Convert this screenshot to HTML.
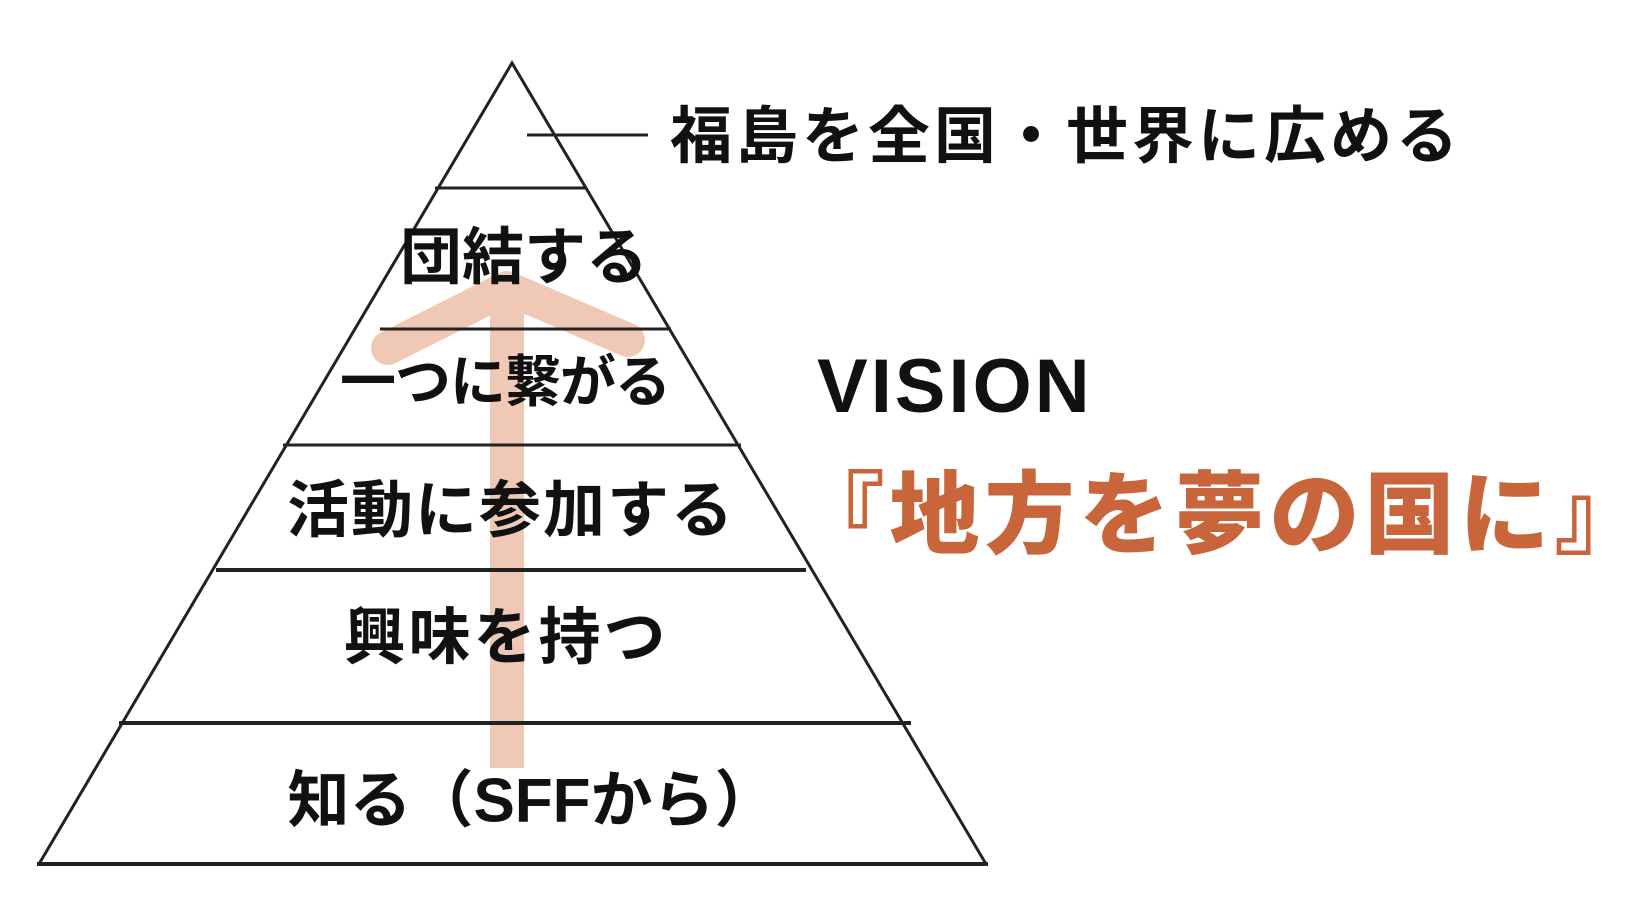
<!DOCTYPE html>
<html><head><meta charset="utf-8"><style>
body{margin:0;background:#fff;width:1644px;height:908px;overflow:hidden}
svg{display:block}
.j{font-family:"Liberation Sans","Noto Sans CJK JP",sans-serif;font-weight:700;fill:#111}
</style></head><body>
<svg width="1644" height="908" viewBox="0 0 1644 908">
<g stroke="#efc8b6" stroke-width="34" stroke-linecap="round" fill="none">
<line x1="507" y1="290" x2="507" y2="768" stroke-linecap="butt"/>
<polyline points="388,348 507,288 628,340" stroke-linejoin="round"/>
</g>
<g stroke="#222" stroke-width="3" fill="none">
<polyline points="39,864 512,63 986,864"/>
<line x1="37" y1="864" x2="988" y2="864" stroke-width="4"/>
<line x1="435" y1="188" x2="587" y2="188"/>
<line x1="380" y1="329" x2="671" y2="329"/>
<line x1="283" y1="445" x2="741" y2="445"/>
<line x1="216" y1="570" x2="806" y2="570" stroke-width="4"/>
<line x1="119" y1="723" x2="911" y2="723" stroke-width="4"/>
<line x1="527" y1="135" x2="648" y2="135"/>
</g>
<g class="j" text-anchor="middle" dominant-baseline="central">
<text x="1066" y="137" font-size="62" letter-spacing="4">福島を全国・世界に広める</text>
<text x="524" y="258" font-size="62" letter-spacing="0">団結する</text>
<text x="505" y="382" font-size="56" letter-spacing="-1">一つに繋がる</text>
<text x="511" y="511" font-size="62" letter-spacing="2">活動に参加する</text>
<text x="506" y="638" font-size="62" letter-spacing="3">興味を持つ</text>
<text x="532" y="801" font-size="62" letter-spacing="0">知る（SFFから）</text>
</g>
<text x="817" y="412" font-family="Liberation Sans,sans-serif" font-weight="bold" font-size="76" letter-spacing="3" fill="#111">VISION</text>
<text x="1222" y="516" text-anchor="middle" dominant-baseline="central" font-family="Liberation Sans,'Noto Sans CJK JP',sans-serif" font-weight="900" font-size="90" letter-spacing="5" fill="#c9653b">『地方を夢の国に』</text>
</svg>
</body></html>
